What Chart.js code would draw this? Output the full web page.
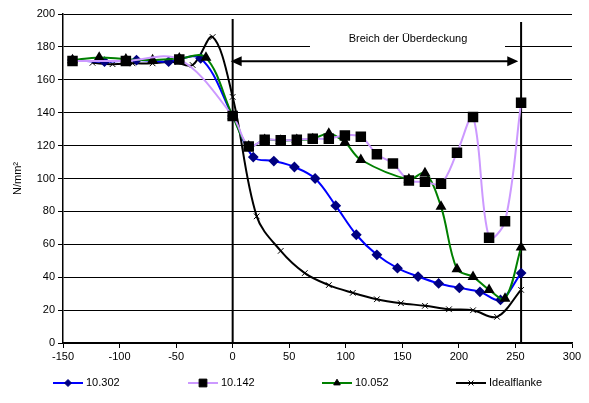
<!DOCTYPE html>
<html>
<head>
<meta charset="utf-8">
<script src="https://cdn.jsdelivr.net/npm/chart.js@4.4.1/dist/chart.umd.min.js"></script>
<style>
  html, body { margin: 0; padding: 0; background: #fff; }
  #chart { display: block; }
</style>
</head>
<body>
<canvas id="chart" width="589" height="403"></canvas>
<script>
// series data (x = position, y = N/mm²)
const blueX = [-141.6, -113.3, -85, -56.6, -28.3, 0, 18.2, 36.4, 54.6, 72.9, 91.1, 109.3, 127.5, 145.7, 163.9, 182.1, 200.4, 218.6, 236.8, 255];
const blueY = [172, 171, 172, 171, 173, 138, 113, 110.6, 107, 100, 83.5, 65.8, 53.6, 45.5, 40.4, 36.2, 33.5, 31.1, 26.2, 42.5];

const purpleX = [-141.6, -94.4, -47.2, 0, 14.2, 28.3, 42.5, 56.7, 70.8, 85, 99.2, 113.3, 127.5, 141.7, 155.8, 170, 184.2, 198.3, 212.5, 226.7, 240.8, 255];
const purpleY = [171.5, 171.5, 172.4, 138, 119.5, 123.6, 123.2, 123.6, 124.2, 124.2, 126.2, 125.4, 114.8, 109.1, 98.8, 98, 96.8, 115.7, 137.4, 64, 74, 146];

const greenX = [-141.6, -118, -94.4, -70.8, -47.2, -23.6, 0, 14.2, 28.3, 42.5, 56.7, 70.8, 85, 99.2, 113.3, 155.8, 170, 184.2, 198.3, 212.5, 226.7, 240.8, 255];
const greenY = [172, 173.6, 172.5, 172, 173, 173.5, 138, 119.5, 123.5, 123, 123.5, 124, 127.4, 122, 111.4, 99.5, 103.3, 82.9, 44.9, 40.2, 32.3, 27, 58.1];

const blackX = [-123.9, -106.2, -88.5, -70.8, -53.1, -35.4, -17.7, 0, 21.25, 42.5, 63.75, 85, 106.25, 127.5, 148.75, 170, 191.25, 212.5, 233.75, 255];
const blackY = [170.3, 169.5, 170, 170, 171, 169, 186, 149.6, 77, 56, 42.5, 35.2, 30.5, 26.6, 24.2, 22.6, 20.5, 19.9, 15.9, 32.3];

const seriesNames = ['10.302', '10.142', '10.052', 'Idealflanke'];
const overlapLabel = 'Breich der Überdeckung';
const overlapStart = 0;
const overlapEnd = 255;
const arrowLevel = 171.3;

const FONT = "'Liberation Sans', Arial, sans-serif";
const legendPos = [53, 188, 322, 456];

function pts(xs, ys) {
    return xs.map((x, i) => ({ x: x, y: ys[i] }));
}

// overlap range marks + hand drawn legend
const overlapPlugin = {
    id: 'overlap',
    beforeDatasetsDraw(chart) {
        const ctx = chart.ctx;
        const xs = chart.scales.x, ys = chart.scales.y;
        const x0 = xs.getPixelForValue(overlapStart);
        const x1 = xs.getPixelForValue(overlapEnd);
        const yA = ys.getPixelForValue(arrowLevel);
        const bottom = ys.getPixelForValue(0);
        ctx.save();
        // white box behind the label, it breaks the 180 grid line
        ctx.fillStyle = '#fff';
        ctx.fillRect(310, 41, 195, 12);
        ctx.fillStyle = '#000';
        ctx.font = '11px ' + FONT;
        ctx.textAlign = 'center';
        ctx.textBaseline = 'middle';
        ctx.fillText(overlapLabel, 408, 39);

        ctx.strokeStyle = '#000';
        ctx.lineWidth = 2;
        ctx.beginPath();
        ctx.moveTo(x0, 19); ctx.lineTo(x0, bottom);
        ctx.moveTo(x1, 22); ctx.lineTo(x1, bottom);
        ctx.stroke();

        // double arrow
        const a0 = x0 - 2, a1 = xs.getPixelForValue(252.5);
        ctx.beginPath();
        ctx.moveTo(a0 + 8, yA); ctx.lineTo(a1 - 8, yA);
        ctx.stroke();
        ctx.beginPath();
        ctx.moveTo(a0, yA); ctx.lineTo(a0 + 11, yA - 5); ctx.lineTo(a0 + 11, yA + 5); ctx.closePath();
        ctx.moveTo(a1, yA); ctx.lineTo(a1 - 11, yA - 5); ctx.lineTo(a1 - 11, yA + 5); ctx.closePath();
        ctx.fill();
        ctx.restore();
    },
    afterDraw(chart) {
        const ctx = chart.ctx;
        const y = 383;
        ctx.save();
        chart.data.datasets.forEach((ds, i) => {
            const lx = legendPos[i];
            ctx.strokeStyle = ds.borderColor;
            ctx.lineWidth = ds.borderWidth;
            ctx.beginPath();
            ctx.moveTo(lx, y); ctx.lineTo(lx + 30, y);
            ctx.stroke();
            ctx.fillStyle = ds.pointBackgroundColor;
            ctx.strokeStyle = ds.pointBorderColor;
            ctx.lineWidth = ds.pointBorderWidth || 1;
            Chart.helpers.drawPoint(ctx, {
                pointStyle: ds.pointStyle, radius: ds.pointRadius - 0.5, borderWidth: ds.pointBorderWidth || 1
            }, lx + 15, y);
            ctx.fillStyle = '#000';
            ctx.font = '11px ' + FONT;
            ctx.textAlign = 'left';
            ctx.textBaseline = 'middle';
            ctx.fillText(ds.label, lx + 33, y);
        });
        ctx.restore();
    }
};

const datasets = [
    {
        label: seriesNames[0], data: pts(blueX, blueY),
        borderColor: '#0000ff', borderWidth: 2,
        pointStyle: 'rectRot', pointRadius: 4, pointBackgroundColor: '#000080', pointBorderColor: '#000080',
        order: 2
    },
    {
        label: seriesNames[1], data: pts(purpleX, purpleY),
        borderColor: '#cc99ff', borderWidth: 2,
        pointStyle: 'rect', pointRadius: 6, pointBackgroundColor: '#000', pointBorderColor: '#000',
        order: 0
    },
    {
        label: seriesNames[2], data: pts(greenX, greenY),
        borderColor: '#008000', borderWidth: 2,
        pointStyle: 'triangle', pointRadius: 4.3, pointBackgroundColor: '#000', pointBorderColor: '#000',
        order: 1
    },
    {
        label: seriesNames[3], data: pts(blackX, blackY),
        borderColor: '#000', borderWidth: 2,
        pointStyle: 'crossRot', pointRadius: 4, pointBackgroundColor: '#000', pointBorderColor: '#000',
        pointBorderWidth: 1,
        order: 3
    }
];

new Chart(document.getElementById('chart'), {
    type: 'scatter',
    data: { datasets: datasets },
    options: {
        responsive: false,
        animation: false,
        datasets: { scatter: { showLine: true, tension: 0.35, clip: false } },
        layout: { padding: { left: 0, top: 14, right: 17, bottom: 0 } },
        plugins: { legend: { display: false }, tooltip: { enabled: false } },
        scales: {
            x: {
                type: 'linear', min: -150, max: 300,
                afterFit(scale) { scale.height = 60; },
                ticks: { stepSize: 50, color: '#000', font: { family: FONT, size: 11 }, padding: 2 },
                grid: { drawOnChartArea: false, drawTicks: true, tickLength: 5, color: '#000' },
                border: { color: '#000', width: 1.5 }
            },
            y: {
                min: 0, max: 200,
                afterFit(scale) { scale.width = 63; },
                ticks: { stepSize: 20, color: '#000', font: { family: FONT, size: 11 }, padding: 3 },
                grid: { color: '#000', lineWidth: 1, tickLength: 5 },
                border: { color: '#000', width: 1.5 },
                title: { display: true, text: 'N/mm²', color: '#000', font: { family: FONT, size: 11 }, padding: { top: 11 } }
            }
        }
    },
    plugins: [overlapPlugin]
});
</script>
</body>
</html>
